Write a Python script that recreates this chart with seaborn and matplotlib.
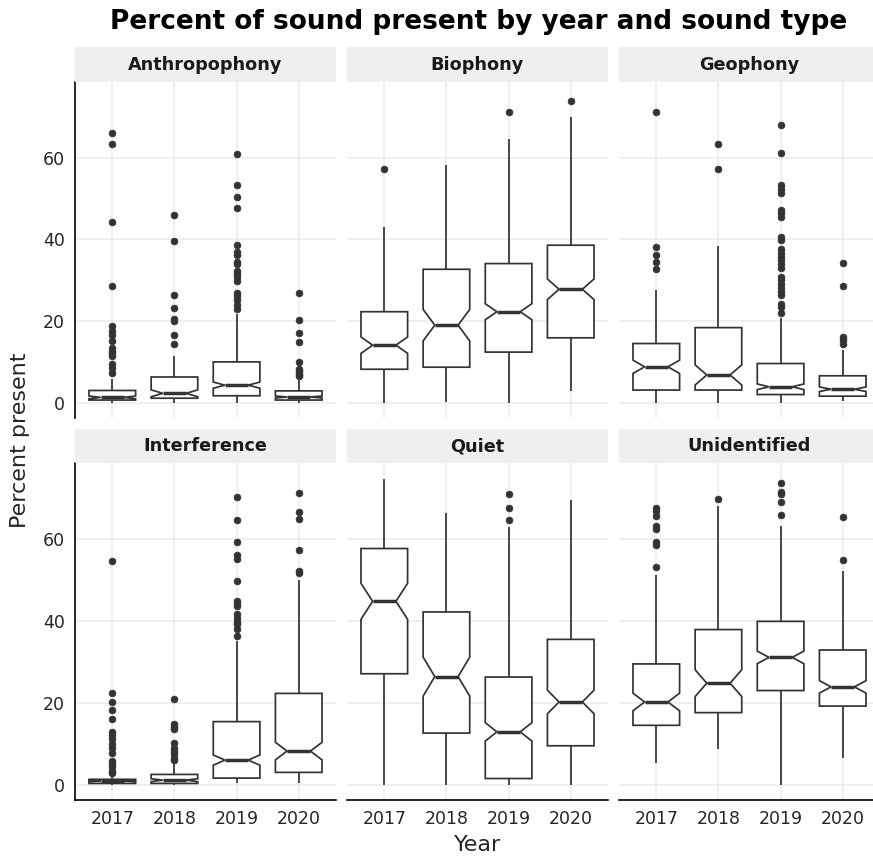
import numpy as np
import pandas as pd
import matplotlib
matplotlib.use("Agg")
import matplotlib.pyplot as plt
import seaborn as sns

# ---------------- data ----------------
YEARS = ["2017", "2018", "2019", "2020"]
SOUND_TYPES = ["Anthropophony", "Biophony", "Geophony",
               "Interference", "Quiet", "Unidentified"]
# approximate number of recordings per year (estimated from notch widths)
N_PER_YEAR = [120, 95, 300, 200]

# rows follow SOUND_TYPES, columns follow YEARS
WHISKER_LO = [[0.0, 0.0, 0.0, 0.0],
              [0.0, 0.2, 0.0, 2.9],
              [0.0, 0.0, 0.0, 0.5],
              [0.0, 0.0, 0.3, 0.5],
              [0.0, 0.0, 0.0, 0.0],
              [5.2, 8.8, 0.0, 6.6]]
Q1 = [[0.65, 1.1, 1.7, 0.65],
      [8.2, 8.7, 12.4, 15.9],
      [3.1, 3.1, 2.0, 1.6],
      [0.3, 0.3, 1.6, 3.0],
      [27.1, 12.6, 1.5, 9.5],
      [14.5, 17.6, 23.0, 19.2]]
MEDIAN = [[1.3, 2.3, 4.3, 1.4],
          [14.1, 19.0, 22.3, 27.8],
          [8.8, 6.8, 3.9, 3.3],
          [0.9, 1.1, 6.0, 8.2],
          [44.8, 26.4, 12.9, 20.2],
          [20.2, 24.8, 31.1, 23.9]]
Q3 = [[3.0, 6.3, 10.0, 2.9],
      [22.3, 32.7, 34.1, 38.6],
      [14.5, 18.4, 9.6, 6.6],
      [1.3, 2.5, 15.4, 22.3],
      [57.7, 42.2, 26.3, 35.5],
      [29.5, 37.9, 39.9, 32.9]]
WHISKER_HI = [[5.8, 11.4, 21.7, 5.5],
              [43.1, 58.2, 64.6, 69.9],
              [27.6, 38.4, 20.8, 12.9],
              [2.7, 5.0, 35.1, 50.1],
              [74.8, 66.5, 62.9, 69.5],
              [51.3, 68.0, 63.3, 52.1]]

anthropophony_outliers = [
    [66.2, 63.3, 44.4, 28.5, 18.9, 17.6, 16.7, 15.2, 13.4, 12.7, 12.1, 11.5, 9.5, 8.6, 7.2],
    [46.1, 39.6, 26.4, 23.1, 20.4, 20.0, 16.5, 14.4],
    [60.9, 53.4, 50.4, 47.8, 38.7, 36.9, 36.2, 34.6, 34.0, 32.3, 31.5, 30.7, 29.9,
     26.8, 26.1, 25.1, 23.9, 22.9],
    [26.8, 20.2, 17.2, 14.8, 10.0, 8.3, 7.8, 7.3, 6.9, 6.5]]
biophony_outliers = [[57.2], [], [71.2], [74.0]]
geophony_outliers = [
    [71.2, 38.2, 36.3, 34.5, 32.7],
    [63.4, 57.2],
    [68.0, 61.1, 53.3, 52.3, 51.3, 47.2, 46.4, 45.4, 40.5, 39.8, 37.6, 36.6, 35.8,
     34.9, 34.0, 32.9, 30.9, 30.0, 29.2, 28.0, 27.2, 26.4, 24.3, 23.5, 22.1],
    [34.3, 28.6, 16.2, 15.3, 14.5]]
interference_outliers = [
    [54.7, 22.5, 20.1, 18.2, 16.0, 12.9, 12.1, 11.1, 9.9, 9.0, 7.7, 5.8, 5.0, 4.2, 3.3, 2.9],
    [20.9, 14.8, 14.1, 13.5, 10.1, 9.0, 8.2, 7.4, 6.6, 6.0],
    [70.4, 64.7, 59.4, 56.2, 55.1, 49.7, 44.9, 44.5, 43.7, 41.7, 40.8, 39.8, 39.2, 38.0, 36.4],
    [71.2, 66.7, 64.9, 57.4, 52.3, 51.7]]
quiet_outliers = [[], [], [71.0, 67.7, 64.7], []]
unidentified_outliers = [
    [67.6, 66.8, 65.6, 63.1, 62.5, 59.2, 58.6, 53.1],
    [69.8],
    [73.7, 71.6, 71.0, 69.1, 66.0],
    [65.3, 54.9]]

OUTLIERS = [anthropophony_outliers, biophony_outliers, geophony_outliers,
            interference_outliers, quiet_outliers, unidentified_outliers]


def sample_from_summary(lo, q1, med, q3, hi, outs, n):
    """Sample of size n whose quartiles/whiskers/outliers are the read values."""
    m = len(outs)
    idx = np.arange(n)
    p1, p2, p3 = 0.25 * (n - 1), 0.5 * (n - 1), 0.75 * (n - 1)
    vals = np.where(idx < (p1 + p2) / 2, q1, np.where(idx < (p2 + p3) / 2, med, q3)).astype(float)
    vals[0] = lo
    vals[n - m - 1] = hi
    if m:
        vals[n - m:] = sorted(outs)
    return vals


rows = []
for t, stype in enumerate(SOUND_TYPES):
    for y, year in enumerate(YEARS):
        v = sample_from_summary(WHISKER_LO[t][y], Q1[t][y], MEDIAN[t][y], Q3[t][y],
                                WHISKER_HI[t][y], OUTLIERS[t][y], N_PER_YEAR[y])
        rows.append(pd.DataFrame({"type": stype, "Year": year, "value": v}))
df = pd.concat(rows, ignore_index=True)

# ---------------- styling ----------------
sns.set_theme(style="white")
plt.rcParams["font.family"] = ["DejaVu Sans"]

W, H = 873, 859
fig = plt.figure(figsize=(W / 100, H / 100), dpi=100)
fig.patch.set_facecolor("white")


def rect(x0, y0, x1, y1):
    return [x0 / W, 1 - y1 / H, (x1 - x0) / W, (y1 - y0) / H]


COLS = [(75, 336), (347, 608), (619, 880)]
PANEL_ROWS = [(82, 418), (463, 800)]
STRIP_ROWS = [(47, 82), (429, 463)]
LINE = "#333333"
GRID = "#EBEBEB"
TEXT = "#262626"

for i, stype in enumerate(SOUND_TYPES):
    r, c = divmod(i, 3)
    x0, x1 = COLS[c]
    py0, py1 = PANEL_ROWS[r]
    sy0, sy1 = STRIP_ROWS[r]

    ax = fig.add_axes(rect(x0, py0, x1, py1))
    sub = df[df["type"] == stype]
    sns.boxplot(data=sub, x="Year", y="value", order=YEARS, ax=ax,
                notch=True, width=0.75, showcaps=False,
                color="white", linecolor=LINE, linewidth=1.25,
                fliersize=4.9,
                flierprops=dict(marker="o", markerfacecolor=LINE,
                                markeredgecolor=LINE, markeredgewidth=0.5),
                medianprops=dict(color=LINE, linewidth=2.5))
    ax.set_xlim(-0.6, 3.6)
    ax.set_ylim(-3.75, 78.6)
    ax.set_facecolor("white")
    ax.set_axisbelow(True)
    ax.grid(True, color=GRID, linewidth=1.1)
    ax.set_yticks([0, 20, 40, 60])
    ax.set_xlabel("")
    ax.set_ylabel("")
    for s in ax.spines.values():
        s.set_visible(False)
    if c == 0:
        ax.spines["left"].set_visible(True)
        ax.spines["left"].set_color("black")
        ax.spines["left"].set_linewidth(1.2)
        ax.tick_params(axis="y", length=4, width=1.0, color="black", pad=3.5,
                       labelsize=12.5, labelcolor=TEXT)
    else:
        ax.tick_params(axis="y", length=0, labelleft=False)
    if r == 1:
        ax.spines["bottom"].set_visible(True)
        ax.spines["bottom"].set_color("black")
        ax.spines["bottom"].set_linewidth(1.2)
        ax.tick_params(axis="x", length=3.8, width=1.0, color="black", pad=3.5,
                       labelsize=12.5, labelcolor=TEXT)
    else:
        ax.tick_params(axis="x", length=0, labelbottom=False)

    sax = fig.add_axes(rect(x0, sy0, x1, sy1))
    sax.set_facecolor("#EFEFEF")
    sax.set_xticks([])
    sax.set_yticks([])
    for s in sax.spines.values():
        s.set_visible(False)
    sax.text(0.5, 0.5, stype, ha="center", va="center", fontsize=12.7,
             fontweight="bold", color="#1A1A1A", transform=sax.transAxes)

fig.text(479 / W, 1 - 29 / H, "Percent of sound present by year and sound type",
         ha="center", va="baseline", fontsize=19, fontweight="bold", color="black")
fig.text(477.5 / W, 1 - 845 / H, "Year", ha="center", va="center",
         fontsize=16, color=TEXT)
fig.text(20 / W, 1 - 440 / H, "Percent present", ha="center", va="center",
         rotation=90, fontsize=16, color=TEXT)

fig.savefig("out.png", dpi=100, facecolor="white")
